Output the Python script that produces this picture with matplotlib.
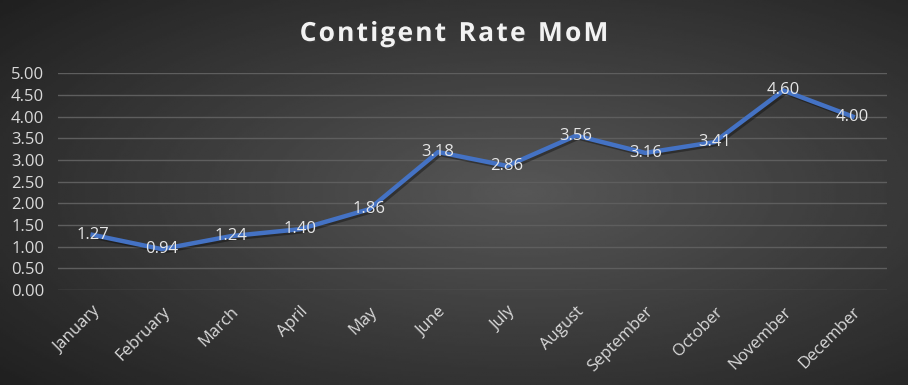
import numpy as np
import matplotlib.pyplot as plt
import matplotlib.patheffects as pe

months = ['January', 'February', 'March', 'April', 'May', 'June', 'July',
          'August', 'September', 'October', 'November', 'December']
rates = [1.27, 0.94, 1.24, 1.40, 1.86, 3.18, 2.86, 3.56, 3.16, 3.41, 4.60, 4.00]
yticks = [0.0, 0.5, 1.0, 1.5, 2.0, 2.5, 3.0, 3.5, 4.0, 4.5, 5.0]
title = 'Contigent Rate MoM'

plt.rcParams['font.family'] = ['Open Sans', 'DejaVu Sans']

fig = plt.figure(figsize=(9.08, 3.85), dpi=100)

# radial dark background, lighter in the middle
bg = fig.add_axes([0, 0, 1, 1], zorder=-10)
gx, gy = np.meshgrid(np.linspace(-1, 1, 400), np.linspace(-1, 1, 200))
r = np.sqrt((gx - 0.15)**2 + gy**2) / np.sqrt(2)
bg.imshow(0.34 - 0.2 * r, cmap='gray', vmin=0, vmax=1, aspect='auto',
          extent=[0, 1, 0, 1])
bg.axis('off')

ax = fig.add_axes([0.064, 0.247, 0.913, 0.563])
ax.patch.set_alpha(0)
x = np.arange(len(months))
ax.plot(x, rates, color='#4472C4', lw=3.2, solid_joinstyle='round', zorder=3,
        path_effects=[pe.SimpleLineShadow(offset=(1.5, -1.5), alpha=0.35),
                      pe.Normal()])
for xi, v in zip(x, rates):
    ax.text(xi, v, f'{v:.2f}', ha='center', va='center', color='#E6E6E6',
            fontsize=12, zorder=4)

ax.set_xlim(-0.5, len(months) - 0.5)
ax.set_ylim(0, 5)
ax.set_yticks(yticks)
ax.set_yticklabels([f'{t:.2f}' for t in yticks], color='#D9D9D9', fontsize=12)
ax.set_xticks(x)
ax.set_xticklabels(months, rotation=45, ha='right', va='top',
                   rotation_mode='anchor', color='#D9D9D9', fontsize=12)
ax.tick_params(length=0, axis='y', pad=10)
ax.tick_params(length=0, axis='x', pad=10)
ax.grid(axis='y', color='#5E5E5E', lw=1)
ax.set_axisbelow(True)
for s in ax.spines.values():
    s.set_visible(False)

# title with letter spacing, drawn one character at a time
renderer = fig.canvas.get_renderer()
tkw = dict(color='#F2F2F2', fontsize=19, fontweight='bold', va='center',
           path_effects=[pe.withSimplePatchShadow(offset=(1, -1), alpha=0.4)])
spacing = 2.2
widths = []
for ch in title:
    t = fig.text(0, 0, ch if ch != ' ' else 'i', **tkw)
    widths.append(t.get_window_extent(renderer).width)
    t.remove()
total = sum(widths) + spacing * (len(title) - 1)
px = 454 - total / 2
for ch, w in zip(title, widths):
    if ch != ' ':
        fig.text(px / 908, 0.913, ch, ha='left', **tkw)
    px += w + spacing

fig.savefig('out.png', dpi=100)
